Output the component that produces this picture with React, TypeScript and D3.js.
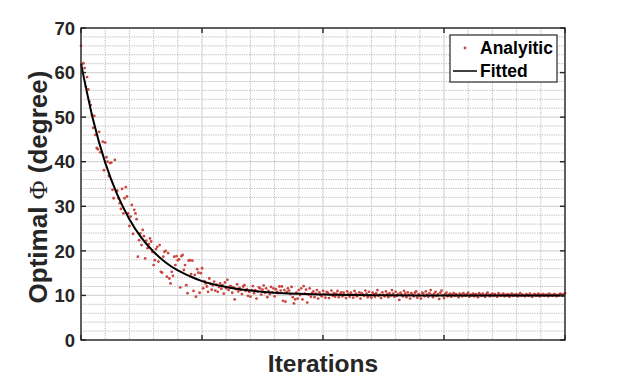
import * as d3 from 'd3';

// analytic optimum per iteration (index = iteration)
const analytic: number[] = [
  66.0, 61.9, 62.1, 61.0, 56.8, 59.0, 56.2, 53.5, 52.7, 50.5,
  47.6, 50.3, 46.0, 43.1, 42.8, 46.7, 42.1, 42.2, 44.5, 38.1,
  44.3, 41.0, 40.0, 36.8, 39.7, 39.8, 33.7, 31.8, 40.4, 33.3,
  33.5, 31.8, 30.7, 29.4, 33.9, 28.4, 31.8, 34.3, 32.2, 28.4,
  25.6, 27.7, 30.3, 23.8, 29.2, 28.4, 27.1, 18.7, 22.4, 23.9,
  21.3, 24.7, 23.3, 18.3, 22.3, 20.6, 21.5, 22.8, 22.1, 19.8,
  16.8, 17.9, 20.4, 20.9, 17.6, 21.3, 15.3, 15.1, 18.7, 19.8,
  20.0, 14.2, 19.5, 13.8, 12.7, 15.3, 14.4, 18.7, 16.8, 18.8,
  17.9, 18.1, 11.8, 18.8, 19.1, 15.7, 16.8, 12.3, 10.5, 17.8,
  17.9, 14.8, 17.8, 11.0, 14.6, 9.7, 15.9, 15.1, 10.6, 15.0,
  16.1, 11.6, 13.2, 12.7, 12.0, 10.8, 13.8, 12.6, 11.3, 12.3,
  13.1, 11.1, 12.4, 10.8, 11.9, 12.7, 11.5, 12.3, 10.4, 12.9,
  11.6, 13.5, 11.2, 12.1, 12.0, 10.6, 11.8, 9.1, 11.4, 12.5,
  10.9, 11.7, 11.2, 10.3, 12.0, 12.3, 11.0, 11.4, 9.9, 10.8,
  9.7, 11.2, 12.1, 10.5, 11.2, 9.3, 10.9, 11.8, 11.6, 10.2,
  11.3, 12.2, 10.6, 11.6, 9.6, 11.0, 10.3, 11.9, 10.7, 11.6,
  9.8, 11.4, 10.8, 10.5, 12.0, 11.1, 12.0, 8.8, 11.2, 8.6,
  10.8, 11.6, 11.1, 10.3, 11.9, 9.6, 8.2, 9.1, 10.6, 9.3,
  11.2, 10.1, 11.6, 9.1, 12.1, 10.4, 11.3, 8.4, 10.2, 11.6,
  9.7, 10.5, 10.9, 9.6, 10.4, 11.2, 9.3, 10.7, 10.1, 9.8,
  11.0, 10.3, 9.5, 10.8, 10.6, 9.4, 10.2, 11.1, 9.9, 10.5,
  9.7, 10.4, 11.0, 9.6, 10.3, 10.7, 9.8, 10.6, 10.1, 9.4,
  10.9, 10.3, 9.7, 10.6, 10.2, 9.5, 11.0, 10.4, 9.8, 10.1,
  10.7, 9.3, 10.5, 10.2, 9.9, 11.1, 10.4, 9.6, 10.8, 10.0,
  9.5, 10.6, 10.3, 9.7, 10.5, 11.2, 9.9, 10.2, 9.4, 10.7,
  10.1, 9.8, 10.9, 10.3, 9.6, 10.5, 10.0, 11.2, 10.4, 9.7,
  10.8, 9.9, 10.3, 9.0, 10.6, 10.2, 9.8, 11.0, 10.4, 9.6,
  10.7, 10.1, 9.3, 10.5, 10.2, 9.8, 10.6, 10.9, 9.5, 10.3,
  10.0, 9.3, 10.6, 10.4, 9.8, 10.9, 10.2, 9.7, 10.5, 11.2,
  10.1, 9.6, 10.4, 10.8, 9.9, 10.3, 9.2, 10.6, 11.1, 10.0,
  9.4, 10.3, 10.6, 9.8, 10.1, 10.4, 9.7, 10.2, 10.5, 9.9,
  10.3, 10.0, 9.6, 10.4, 10.2, 9.8, 10.5, 10.1, 9.9, 10.3,
  10.6, 9.7, 10.2, 10.0, 10.4, 9.8, 10.3, 10.1, 9.6, 10.5,
  10.2, 9.9, 10.4, 10.0, 9.7, 10.3, 10.6, 10.1, 9.8, 10.2,
  10.4, 9.9, 10.3, 10.0, 9.7, 10.5, 10.2, 9.9, 10.1, 10.4,
  9.8, 10.2, 10.0, 10.3, 9.7, 10.1, 10.4, 9.9, 10.2, 10.0,
  10.3, 9.8, 10.1, 10.5, 9.9, 10.2, 10.0, 9.8, 10.3, 10.1,
  9.9, 10.4, 10.0, 9.7, 10.2, 10.3, 9.9, 10.1, 10.4, 9.8,
  10.2, 10.0, 10.3, 9.9, 10.1, 10.2, 9.8, 10.4, 10.0, 10.1,
  9.9, 10.3, 10.2, 9.8, 10.1, 10.0, 10.4, 10.2, 9.9, 10.3,
  10.5,
];

// fitted exponential curve, sampled
const fitIters = [0, 10, 20, 30, 40, 50, 60, 70, 80, 90, 100, 120, 140, 160, 180, 200, 250, 300, 350, 400];
const fitValues = [62.0, 49.4, 39.8, 32.6, 27.1, 22.9, 19.8, 17.4, 15.6, 14.3, 13.2, 11.9, 11.1, 10.6, 10.35, 10.2, 10.05, 10.0, 10.0, 10.0];

const xMajor = [0, 100, 200, 300, 400];
const yMajor = [0, 10, 20, 30, 40, 50, 60, 70];

const W = 623;
const H = 385;
const margin = { top: 28, right: 58, bottom: 45, left: 81 };
const ink = '#262626';
const dotColor = '#cc4740';
const font = "'Liberation Sans', Arial, sans-serif";

export default function App() {
  const x = d3.scaleLinear().domain([0, 400]).range([margin.left, W - margin.right]);
  const y = d3.scaleLinear().domain([0, 70]).range([H - margin.bottom, margin.top]);

  const xMinor = d3.range(0, 401, 20).filter(v => v % 100 !== 0);
  const yMinor = d3.range(0, 71, 2).filter(v => v % 10 !== 0);

  const fitLine = d3.line<number>()
    .x((_, i) => x(fitIters[i]))
    .y(d => y(d))
    .curve(d3.curveMonotoneX);

  const [x0, x1] = x.range();
  const [y0, y1] = y.range(); // y0 bottom, y1 top

  return (
    <svg width={W} height={H} style={{ position: 'absolute', left: 0, top: 0, background: '#fff' }}>
      <rect x={x0} y={y1} width={x1 - x0} height={y0 - y1} fill="#fff" />

      {/* minor grid */}
      <g stroke="#b0b0b0" strokeWidth={0.9} strokeDasharray="1.2,1.2">
        {xMinor.map(v => <line key={'xm' + v} x1={x(v)} x2={x(v)} y1={y1} y2={y0} />)}
        {yMinor.map(v => <line key={'ym' + v} x1={x0} x2={x1} y1={y(v)} y2={y(v)} />)}
      </g>
      {/* major grid */}
      <g stroke="#d6d6d6" strokeWidth={1.2}>
        {xMajor.map(v => <line key={'xg' + v} x1={x(v)} x2={x(v)} y1={y1} y2={y0} />)}
        {yMajor.map(v => <line key={'yg' + v} x1={x0} x2={x1} y1={y(v)} y2={y(v)} />)}
      </g>

      {/* data */}
      <g fill={dotColor}>
        {analytic.map((v, i) => <circle key={i} cx={x(i)} cy={y(v)} r={1.4} />)}
      </g>
      <path d={fitLine(fitValues) || ''} fill="none" stroke="#000" strokeWidth={2} />

      {/* frame and ticks */}
      <rect x={x0} y={y1} width={x1 - x0} height={y0 - y1} fill="none" stroke={ink} strokeWidth={1.4} />
      <g stroke={ink} strokeWidth={1.4}>
        {xMajor.map(v => (
          <g key={'xt' + v}>
            <line x1={x(v)} x2={x(v)} y1={y0} y2={y0 - 5} />
            <line x1={x(v)} x2={x(v)} y1={y1} y2={y1 + 5} />
          </g>
        ))}
        {yMajor.map(v => (
          <g key={'yt' + v}>
            <line x1={x0} x2={x0 + 5} y1={y(v)} y2={y(v)} />
            <line x1={x1} x2={x1 - 5} y1={y(v)} y2={y(v)} />
          </g>
        ))}
      </g>

      {/* y tick labels */}
      <g fontFamily={font} fontWeight="bold" fontSize={18.5} fill={ink} textAnchor="end">
        {yMajor.map(v => (
          <text key={'yl' + v} x={x0 - 6} y={y(v)} dy="0.36em">{v}</text>
        ))}
      </g>

      {/* axis titles */}
      <text x={(x0 + x1) / 2} y={372} textAnchor="middle" fontFamily={font} fontWeight="bold" fontSize={24.5} fill={ink}>
        Iterations
      </text>
      <text transform={`translate(47,${(y0 + y1) / 2 + 3}) rotate(-90)`} textAnchor="middle" fontFamily={font} fontWeight="bold" fontSize={26} fill={ink}>
        Optimal <tspan fontFamily="'Liberation Serif', 'Times New Roman', serif" fontWeight="normal">Φ</tspan> (degree)
      </text>

      {/* legend */}
      <g transform="translate(450,35)">
        <rect width={107} height={47} fill="#fff" stroke={ink} strokeWidth={1.2} />
        <circle cx={15} cy={13} r={1.4} fill={dotColor} />
        <line x1={3} x2={27} y1={36} y2={36} stroke="#000" strokeWidth={1.5} />
        <g fontFamily={font} fontWeight="bold" fontSize={17.5} fill="#000">
          <text x={30} y={19}>Analyitic</text>
          <text x={30} y={42}>Fitted</text>
        </g>
      </g>
    </svg>
  );
}
